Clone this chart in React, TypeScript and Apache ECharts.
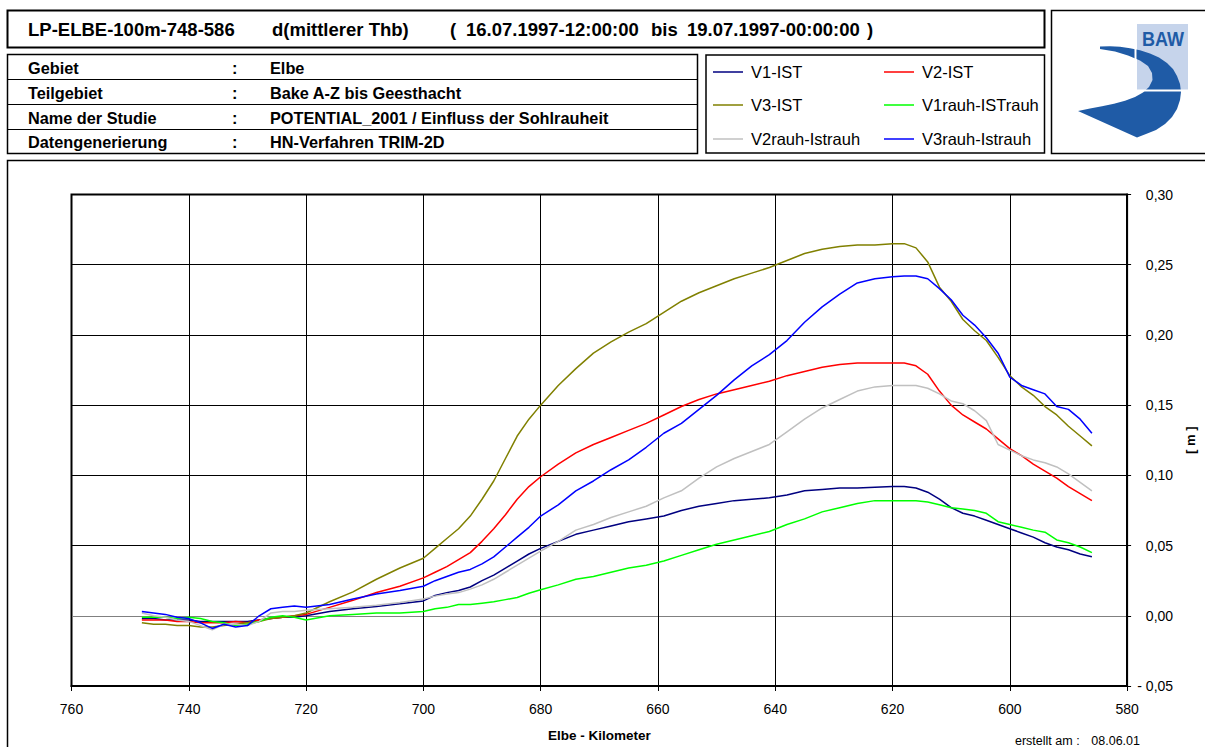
import React, { useEffect, useRef } from "react";
import * as echarts from "echarts";

const KM = [
  748, 746, 744, 742, 740, 738, 736, 734, 732, 730, 728, 726, 724, 722, 720,
  716, 712, 708, 704, 700,
  698, 696, 694, 692, 690, 688, 686, 684, 682, 680,
  677, 674, 671, 668, 665, 662, 659, 656, 653, 650,
  647, 644, 641, 638, 635, 632, 629, 626, 623, 620,
  618, 616, 614, 612, 610, 608, 606, 604, 602, 600,
  598, 596, 594, 592, 590, 588, 586,
];

const V1_IST = [
  -0.002, -0.002, -0.003, -0.003, -0.003, -0.004, -0.004, -0.004, -0.004, -0.004, -0.003, -0.002, -0.001, -0.001, 0.0,
  0.003, 0.005, 0.0066, 0.0085, 0.0106,
  0.0145, 0.0165, 0.018, 0.0205, 0.025, 0.029, 0.034, 0.039, 0.044, 0.048,
  0.053, 0.058, 0.061, 0.064, 0.067, 0.069, 0.071, 0.075, 0.078, 0.08,
  0.082, 0.083, 0.084, 0.086, 0.089, 0.09, 0.091, 0.091, 0.0915, 0.092,
  0.092, 0.091, 0.088, 0.083, 0.077, 0.073, 0.071, 0.068, 0.065, 0.062,
  0.059, 0.056, 0.052, 0.049, 0.047, 0.044, 0.042,
];

const V2_IST = [
  -0.003, -0.003, -0.003, -0.004, -0.004, -0.005, -0.005, -0.005, -0.004, -0.005, -0.003, -0.002, -0.001, 0.0, 0.001,
  0.006, 0.011, 0.0166, 0.021, 0.027,
  0.031, 0.035, 0.04, 0.045, 0.053, 0.062, 0.072, 0.083, 0.092, 0.099,
  0.108, 0.116, 0.122, 0.127, 0.132, 0.137, 0.143, 0.149, 0.154, 0.158,
  0.161, 0.164, 0.167, 0.171, 0.174, 0.177, 0.179, 0.18, 0.18, 0.18,
  0.18, 0.178, 0.172, 0.16, 0.15, 0.143, 0.138, 0.133, 0.126, 0.119,
  0.114, 0.108, 0.103, 0.098, 0.092, 0.087, 0.082,
];

const V3_IST = [
  -0.005, -0.006, -0.006, -0.007, -0.007, -0.008, -0.008, -0.007, -0.006, -0.005, -0.004, -0.002, -0.001, 0.0, 0.002,
  0.01, 0.017, 0.026, 0.034, 0.041,
  0.048, 0.055, 0.062, 0.071, 0.083, 0.096, 0.112, 0.128, 0.14, 0.15,
  0.164, 0.176, 0.187, 0.195, 0.202, 0.208, 0.216, 0.224, 0.23, 0.235,
  0.24, 0.244, 0.248, 0.253, 0.258, 0.261, 0.263, 0.264, 0.264, 0.265,
  0.265, 0.262, 0.252, 0.234, 0.224, 0.211, 0.203, 0.196, 0.184, 0.171,
  0.163, 0.157, 0.149, 0.143, 0.135, 0.128, 0.121,
];

const V1RAUH_ISTRAUH = [
  -0.001, -0.001, -0.001, -0.002, -0.001, -0.002, -0.004, -0.005, -0.007, -0.006, -0.004, -0.001, 0.0, -0.001, -0.003,
  0.0, 0.001, 0.002, 0.002, 0.003,
  0.005, 0.006, 0.008, 0.008, 0.009, 0.01, 0.0115, 0.013, 0.016, 0.0185,
  0.022, 0.026, 0.028, 0.031, 0.034, 0.036, 0.039, 0.043, 0.047, 0.051,
  0.054, 0.057, 0.06, 0.065, 0.069, 0.074, 0.077, 0.08, 0.082, 0.082,
  0.082, 0.082, 0.081, 0.079, 0.077, 0.076, 0.075, 0.073, 0.067, 0.065,
  0.063, 0.061, 0.0595, 0.054, 0.052, 0.049, 0.045,
];

const V2RAUH_ISTRAUH = [
  0.002, 0.0, -0.001, -0.003, -0.004, -0.007, -0.01, -0.006, -0.006, -0.007, -0.004, 0.002, 0.003, 0.003, 0.004,
  0.005, 0.006, 0.0075, 0.0095, 0.012,
  0.014, 0.0155, 0.0165, 0.019, 0.022, 0.026, 0.031, 0.036, 0.041, 0.046,
  0.053, 0.061, 0.065, 0.07, 0.074, 0.078, 0.084, 0.089, 0.098, 0.106,
  0.112, 0.117, 0.122, 0.131, 0.14, 0.148, 0.154, 0.16, 0.163, 0.164,
  0.164, 0.164, 0.162, 0.158, 0.153, 0.151, 0.146, 0.139, 0.122, 0.118,
  0.114, 0.111, 0.109, 0.106, 0.101, 0.095, 0.089,
];

const V3RAUH_ISTRAUH = [
  0.003, 0.002, 0.001, -0.001, -0.002, -0.005, -0.009, -0.006, -0.008, -0.007, 0.0, 0.005, 0.006, 0.007, 0.006,
  0.008, 0.012, 0.0155, 0.018, 0.021,
  0.025, 0.028, 0.031, 0.033, 0.037, 0.042, 0.049, 0.056, 0.063, 0.071,
  0.079, 0.089, 0.096, 0.104, 0.111, 0.12, 0.13, 0.137, 0.147, 0.157,
  0.168, 0.178, 0.186, 0.196, 0.209, 0.22, 0.229, 0.237, 0.24, 0.2415,
  0.242, 0.242, 0.24, 0.233, 0.225, 0.214, 0.207, 0.198, 0.187, 0.17,
  0.164, 0.161, 0.158, 0.149, 0.147, 0.14, 0.13,
];

const SERIES_NAMES = ["V1-IST", "V2-IST", "V3-IST", "V1rauh-ISTrauh", "V2rauh-Istrauh", "V3rauh-Istrauh"];
const SERIES_VALUES = [V1_IST, V2_IST, V3_IST, V1RAUH_ISTRAUH, V2RAUH_ISTRAUH, V3RAUH_ISTRAUH];
const SERIES_COLORS = ["#000080", "#ff0000", "#808000", "#00ff00", "#c0c0c0", "#0000ff"];

const TITLE_PARTS = ["LP-ELBE-100m-748-586", "d(mittlerer Thb)", "(", "16.07.1997-12:00:00", "bis", "19.07.1997-00:00:00", ")"];
const INFO_LABELS = ["Gebiet", "Teilgebiet", "Name der Studie", "Datengenerierung"];
const INFO_VALUES = ["Elbe", "Bake A-Z bis Geesthacht", "POTENTIAL_2001 / Einfluss der Sohlrauheit", "HN-Verfahren TRIM-2D"];

const X_MIN = 580;
const X_MAX = 760;
const X_STEP = 20;
const Y_MIN = -0.05;
const Y_MAX = 0.3;
const Y_STEP = 0.05;

const FONT = '"Liberation Sans", Arial, Helvetica, sans-serif';

function fmtY(v: number): string {
  const s = Math.abs(v).toFixed(2).replace(".", ",");
  return v < -1e-9 ? "- " + s : s;
}

export default function App() {
  const ref = useRef<HTMLDivElement>(null);

  useEffect(() => {
    if (!ref.current) return;
    const chart = echarts.init(ref.current, null, { renderer: "svg" });

    const txt = (text: string, x: number, y: number, size: number, bold: boolean, align = "left", extra: any = {}, el: any = {}) => ({
      type: "text",
      x,
      y,
      silent: true,
      ...el,
      style: {
        text,
        fill: "#000",
        fontSize: size,
        fontWeight: bold ? "bold" : "normal",
        fontFamily: FONT,
        align,
        verticalAlign: "middle",
        ...extra,
      },
    });
    const box = (x: number, y: number, w: number, h: number, lw: number) => ({
      type: "rect",
      silent: true,
      shape: { x, y, width: w, height: h },
      style: { fill: "none", stroke: "#000", lineWidth: lw },
    });
    const hline = (x1: number, x2: number, y: number, lw: number, color = "#000") => ({
      type: "line",
      silent: true,
      shape: { x1, y1: y, x2, y2: y },
      style: { stroke: color, lineWidth: lw },
    });

    const graphics: any[] = [];
    // frames
    graphics.push(box(7.5, 10.5, 1037, 37, 2));
    graphics.push(box(7.5, 54.5, 690, 99, 1.5));
    graphics.push(hline(7.5, 697.5, 79.5, 1));
    graphics.push(hline(7.5, 697.5, 104.5, 1));
    graphics.push(hline(7.5, 697.5, 129.5, 1));
    graphics.push(box(706, 55, 338.5, 98, 1.5));
    graphics.push(box(1051.5, 10.5, 220, 143, 1.5));
    graphics.push(box(7.5, 160.5, 1300, 700, 1.5));

    // title
    const titleX = [28, 272, 450, 466, 651, 687, 867];
    TITLE_PARTS.forEach((t, i) => graphics.push(txt(t, titleX[i], 29, 18.5, true)));

    // info table
    const rowY = [68, 93, 118, 142];
    INFO_LABELS.forEach((t, i) => {
      graphics.push(txt(t, 28, rowY[i], 16.3, true));
      graphics.push(txt(":", 232, rowY[i], 16.3, true));
      graphics.push(txt(INFO_VALUES[i], 270, rowY[i], 16.3, true));
    });

    // legend
    const legY = [72, 105, 139];
    SERIES_NAMES.forEach((n, i) => {
      const col = i % 2;
      const row = Math.floor(i / 2);
      const lx = col === 0 ? 713 : 884;
      const y = legY[row];
      graphics.push({
        type: "line",
        silent: true,
        shape: { x1: lx, y1: y, x2: lx + 30, y2: y },
        style: { stroke: SERIES_COLORS[i], lineWidth: 1.5 },
      });
      graphics.push(txt(n, lx + 38, y, 16.5, false));
    });

    // logo
    graphics.push({
      type: "rect",
      silent: true,
      shape: { x: 1137, y: 24, width: 51, height: 66 },
      style: { fill: "#c6d4eb" },
    });
    graphics.push({
      type: "polygon",
      silent: true,
      shape: {
        points: [
          [1100, 46.5], [1110, 46.2], [1120, 46.8], [1130, 48.2], [1140, 50.3], [1150, 53.4], [1159, 57.5],
          [1167, 63], [1173, 69], [1177, 76], [1180, 84], [1181, 92], [1180, 100], [1177, 109], [1172, 117],
          [1165, 124], [1156, 130], [1146, 134], [1137, 137.5], [1078, 111],
          [1090, 108.5], [1102, 106.3], [1114, 103.8], [1125, 100.8], [1135, 97], [1143, 92.5], [1149, 87],
          [1152.5, 80], [1152, 73], [1148, 66], [1140, 60.5], [1128, 55.5], [1115, 51.5], [1100, 49],
        ],
      },
      style: { fill: "#1f5ba6" },
    });
    graphics.push({
      type: "line",
      silent: true,
      shape: { x1: 1135.5, y1: 44, x2: 1135.5, y2: 64 },
      style: { stroke: "#fff", lineWidth: 2 },
    });
    graphics.push(hline(1137, 1188, 90.5, 2, "#fff"));
    graphics.push(
      txt("BAW", 1163, 38, 21, true, "center", { fill: "#1f5ba6" }, { scaleX: 0.86 })
    );

    // footer
    graphics.push(txt("erstellt am :", 1015, 741, 12.5, false));
    graphics.push(txt("08.06.01", 1140, 741, 12.5, false, "right"));

    const series = SERIES_NAMES.map((name, i) => ({
      name,
      type: "line",
      data: KM.map((k, j) => [k, SERIES_VALUES[i][j]]),
      symbol: "none",
      showSymbol: false,
      lineStyle: { color: SERIES_COLORS[i], width: 1.5 },
      itemStyle: { color: SERIES_COLORS[i] },
      z: 3 + i,
    }));

    const nY = Math.round((Y_MAX - Y_MIN) / Y_STEP);
    const splitColors = Array.from({ length: nY + 1 }, (_, i) => (i === 1 ? "#808080" : "#000"));

    chart.setOption({
      animation: false,
      backgroundColor: "#fff",
      textStyle: { fontFamily: FONT },
      grid: {
        left: 71.5,
        right: 69,
        top: 194.5,
        bottom: 747 - 686.6,
        show: true,
        borderColor: "#000",
        borderWidth: 2,
        backgroundColor: "transparent",
      },
      xAxis: {
        type: "value",
        min: X_MIN,
        max: X_MAX,
        interval: X_STEP,
        inverse: true,
        name: "Elbe - Kilometer",
        nameLocation: "middle",
        nameGap: 42,
        nameTextStyle: { color: "#000", fontSize: 13.5, fontWeight: "bold", fontFamily: FONT },
        axisLine: { show: true, onZero: false, lineStyle: { color: "#000", width: 2 } },
        axisTick: { show: true, length: 5, lineStyle: { color: "#000", width: 1 } },
        axisLabel: { color: "#000", fontSize: 14, margin: 16, fontFamily: FONT, formatter: (v: number) => String(v) },
        splitLine: { show: true, lineStyle: { color: "#000", width: 1 } },
      },
      yAxis: {
        type: "value",
        position: "right",
        min: Y_MIN,
        max: Y_MAX,
        interval: Y_STEP,
        name: "[ m ]",
        nameLocation: "middle",
        nameRotate: 90,
        nameGap: 53,
        nameTextStyle: { color: "#000", fontSize: 13, fontWeight: "bold", fontFamily: FONT },
        axisLine: { show: true, lineStyle: { color: "#000", width: 2 } },
        axisTick: { show: true, length: 4, lineStyle: { color: "#000", width: 1 } },
        axisLabel: {
          color: "#000",
          fontSize: 14,
          margin: 46,
          align: "right",
          fontFamily: FONT,
          formatter: (v: number) => fmtY(v),
        },
        splitLine: { show: true, lineStyle: { color: splitColors, width: 1 } },
      },
      series,
      graphic: graphics,
    });

    return () => chart.dispose();
  }, []);

  return (
    <div
      ref={ref}
      style={{ position: "absolute", left: 0, top: 0, width: 1205, height: 747, background: "#fff" }}
    />
  );
}
